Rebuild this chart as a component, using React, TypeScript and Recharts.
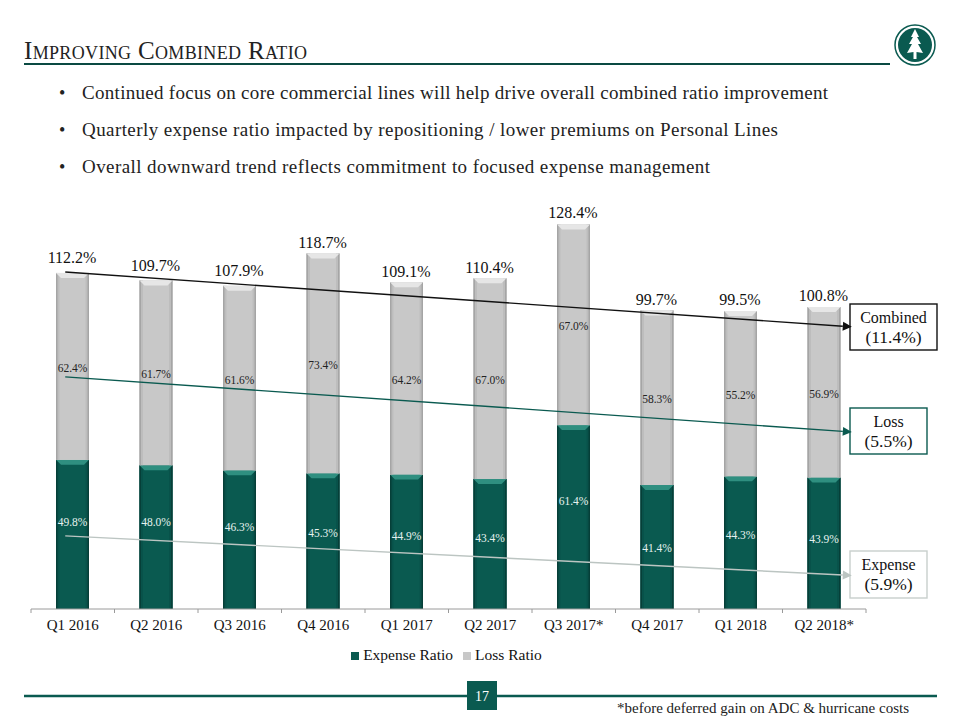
import { BarChart, Bar, XAxis, YAxis, Legend, LabelList, ReferenceLine } from 'recharts';

const quarters = ['Q1 2016', 'Q2 2016', 'Q3 2016', 'Q4 2016', 'Q1 2017', 'Q2 2017', 'Q3 2017*', 'Q4 2017', 'Q1 2018', 'Q2 2018*'];
const expenseRatio = [49.8, 48.0, 46.3, 45.3, 44.9, 43.4, 61.4, 41.4, 44.3, 43.9];
const lossRatio = [62.4, 61.7, 61.6, 73.4, 64.2, 67.0, 67.0, 58.3, 55.2, 56.9];
const combinedRatio = [112.2, 109.7, 107.9, 118.7, 109.1, 110.4, 128.4, 99.7, 99.5, 100.8];

// trend arrows, x runs from the first to the last bar centre on a 0-9 scale
const trendX = [-0.09, 9.33];
const combinedTrend = [112.5, 94.2];
const lossTrend = [77.5, 59.1];
const expenseTrend = [24.4, 11.2];

const bullets = [
  'Continued focus on core commercial lines will help drive overall combined ratio improvement',
  'Quarterly expense ratio impacted by repositioning / lower premiums on Personal Lines',
  'Overall downward trend reflects commitment to focused expense management',
];
const bulletWidths = [746, 696, 628];

const data = quarters.map((q, i) => ({
  quarter: q,
  band: i,
  expense: expenseRatio[i],
  loss: lossRatio[i],
  combined: combinedRatio[i],
}));

const FONT = '"Liberation Serif", serif';
const TEAL = '#0a5a50';
const GREY = '#c8c8c8';
const BAND = 83.5;

// hand placed in the slide, so the labels do not follow one rule
const expenseLabelShift = [-12, -15, -13, -8, -6, -6, -16, 1, -8, -4];
const totalLabelShift = [-15, -15, -15, -11, -11, -11, -12, -11, -11, -12];

function BevelBar({ x, y, width, height, fill, top, side, edge }: any) {
  const b = 5;
  return (
    <g>
      <rect x={x} y={y} width={width} height={height} fill={fill} />
      <rect x={x} y={y} width={3.5} height={height} fill={side} />
      <rect x={x + width - 3.5} y={y} width={3.5} height={height} fill={side} />
      <rect x={x} y={y} width={1.5} height={height} fill={edge} />
      <rect x={x + width - 1.5} y={y} width={1.5} height={height} fill={edge} />
      <polygon points={`${x},${y} ${x + width},${y} ${x + width - b},${y + b} ${x + b},${y + b}`} fill={top} />
    </g>
  );
}

function ExpenseLabel({ x, y, width, height, value, index }: any) {
  return (
    <text x={x + width / 2} y={y + height / 2 + expenseLabelShift[index]} textAnchor="middle" dominantBaseline="central"
      fontSize={11.5} fontFamily={FONT} fill="#e6f2ef">
      {value.toFixed(1)}%
    </text>
  );
}

function LossLabel({ x, y, width, height, value }: any) {
  return (
    <text x={x + width / 2} y={y + height / 2 + 1.5} textAnchor="middle" dominantBaseline="central"
      fontSize={11.5} fontFamily={FONT} fill="#222">
      {value.toFixed(1)}%
    </text>
  );
}

function TotalLabel({ x, y, width, value, index }: any) {
  return (
    <text x={x + width / 2 - 0.5} y={y + totalLabelShift[index]} textAnchor="middle" dominantBaseline="central"
      fontSize={16} fontFamily={FONT} fill="#111">
      {value.toFixed(1)}%
    </text>
  );
}

function QuarterTick({ x, y, payload, index }: any) {
  const left = x - BAND / 2;
  return (
    <g>
      <line x1={left} y1={y - 8} x2={left} y2={y - 4} stroke="#9a9a9a" />
      {index === quarters.length - 1 && (
        <line x1={left + BAND} y1={y - 8} x2={left + BAND} y2={y - 4} stroke="#9a9a9a" />
      )}
      <text x={x} y={y + 13} textAnchor="middle" fontSize={15} fontFamily={FONT} fill="#111">{payload.value}</text>
    </g>
  );
}

function TrendArrow({ x1, y1, x2, y2, color }: any) {
  const a = Math.atan2(y2 - y1, x2 - x1);
  const len = 9;
  const wing = 4.5;
  const bx = x2 - len * Math.cos(a);
  const by = y2 - len * Math.sin(a);
  const px = -Math.sin(a) * wing;
  const py = Math.cos(a) * wing;
  return (
    <g>
      <line x1={x1} y1={y1} x2={bx} y2={by} stroke={color} strokeWidth={1.4} />
      <polygon points={`${x2},${y2} ${bx + px},${by + py} ${bx - px},${by - py}`} fill={color} />
    </g>
  );
}

function trendShape(color: string) {
  return (p: any) => {
    const seg = p.segment || [{ x: p.x1, y: p.y1 }, { x: p.x2, y: p.y2 }];
    return <TrendArrow x1={seg[0].x} y1={seg[0].y} x2={seg[1].x} y2={seg[1].y} color={color} />;
  };
}

function Callout({ x, y, w, h, color, lines }: any) {
  return (
    <g>
      <rect x={x} y={y} width={w} height={h} fill="#fff" stroke={color} strokeWidth={1.4} />
      {lines.map((t: string, i: number) => (
        <text key={t} x={x + w / 2} y={y + 19 + i * 20} textAnchor="middle" fontSize={i === 0 ? 16 : 17.5} fontFamily={FONT} fill="#111">
          {t}
        </text>
      ))}
    </g>
  );
}

function Slide() {
  return (
    <svg width={960} height={720} style={{ position: 'absolute', left: 0, top: 0 }}>
      <text x={24} y={59} fontSize={25} fontFamily={FONT} fill="#222" style={{ fontVariant: 'small-caps' }} textLength={283}>
        Improving Combined Ratio
      </text>
      <line x1={24} y1={64} x2={890} y2={64} stroke="#0a4a42" strokeWidth={2} />
      <circle cx={915} cy={45} r={17} fill={TEAL} />
      <circle cx={915} cy={45} r={20} fill="none" stroke={TEAL} strokeWidth={1.5} />
      <polygon points="915,29 919,37 917,37 921,44 918,44 923,53 916.5,52 916.5,59 913.5,59 913.5,52 907,53 912,44 909,44 913,37 911,37" fill="#fff" />
      {bullets.map((t, i) => (
        <g key={t}>
          <text x={59} y={99 + i * 37} fontSize={18} fontFamily={FONT} fill="#222">•</text>
          <text x={82} y={99 + i * 37} fontSize={19} fontFamily={FONT} fill="#222" textLength={bulletWidths[i]}>{t}</text>
        </g>
      ))}
      <line x1={24} y1={696} x2={937} y2={696} stroke={TEAL} strokeWidth={2.5} />
      <rect x={467} y={681} width={30} height={29} fill={TEAL} />
      <text x={482} y={701} textAnchor="middle" fontSize={14} fontFamily={FONT} fill="#fff">17</text>
      <text x={617} y={713} fontSize={15} fontFamily={FONT} fill="#222">*before deferred gain on ADC &amp; hurricane costs</text>
      <Callout x={850} y={304} w={87} h={46} color="#111" lines={['Combined', '(11.4%)']} />
      <Callout x={850} y={408} w={77} h={46} color={TEAL} lines={['Loss', '(5.5%)']} />
      <Callout x={850} y={551} w={77} h={47} color="#c8cfcc" lines={['Expense', '(5.9%)']} />
    </svg>
  );
}

export default function App() {
  return (
    <div style={{ position: 'absolute', left: 0, top: 0, width: 960, height: 720, fontFamily: FONT }}>
      <Slide />
      <div style={{ position: 'absolute', left: 0, top: 0 }}>
        <BarChart width={960} height={720} data={data} barCategoryGap="20%"
          margin={{ top: 189.7, right: 94, bottom: 61, left: 31 }}>
          <YAxis hide domain={[0, 140]} />
          <XAxis dataKey="quarter" height={30} tickLine={false} interval={0} stroke="#9a9a9a"
            tick={<QuarterTick />} />
          <XAxis xAxisId="trend" hide dataKey="band" type="number" domain={[-0.5, 9.5]} allowDataOverflow />
          <Legend height={20} iconType="square" iconSize={8}
            wrapperStyle={{ fontSize: 15.5, fontFamily: FONT, bottom: 54, paddingLeft: 3 }}
            formatter={(v) => <span style={{ color: '#111' }}>{v}</span>} />
          <Bar dataKey="expense" name="Expense Ratio" stackId="a" fill={TEAL} barSize={33} isAnimationActive={false}
            shape={(p: any) => <BevelBar {...p} fill={TEAL} top="#2f8f80" side="#08524a" edge="#063f38" />}>
            <LabelList dataKey="expense" content={<ExpenseLabel />} />
          </Bar>
          <Bar dataKey="loss" name="Loss Ratio" stackId="a" fill={GREY} barSize={33} isAnimationActive={false}
            shape={(p: any) => <BevelBar {...p} fill={GREY} top="#e6e6e6" side="#bdbdbd" edge="#a5a5a5" />}>
            <LabelList dataKey="loss" content={<LossLabel />} />
            <LabelList dataKey="combined" content={<TotalLabel />} />
          </Bar>
          <ReferenceLine xAxisId="trend" ifOverflow="visible" segment={[{ x: trendX[0], y: combinedTrend[0] }, { x: trendX[1], y: combinedTrend[1] }]} shape={trendShape('#111')} />
          <ReferenceLine xAxisId="trend" ifOverflow="visible" segment={[{ x: trendX[0], y: lossTrend[0] }, { x: trendX[1], y: lossTrend[1] }]} shape={trendShape('#0a5a50')} />
          <ReferenceLine xAxisId="trend" ifOverflow="visible" segment={[{ x: trendX[0], y: expenseTrend[0] }, { x: trendX[1], y: expenseTrend[1] }]} shape={trendShape('#bcc5c2')} />
        </BarChart>
      </div>
    </div>
  );
}
